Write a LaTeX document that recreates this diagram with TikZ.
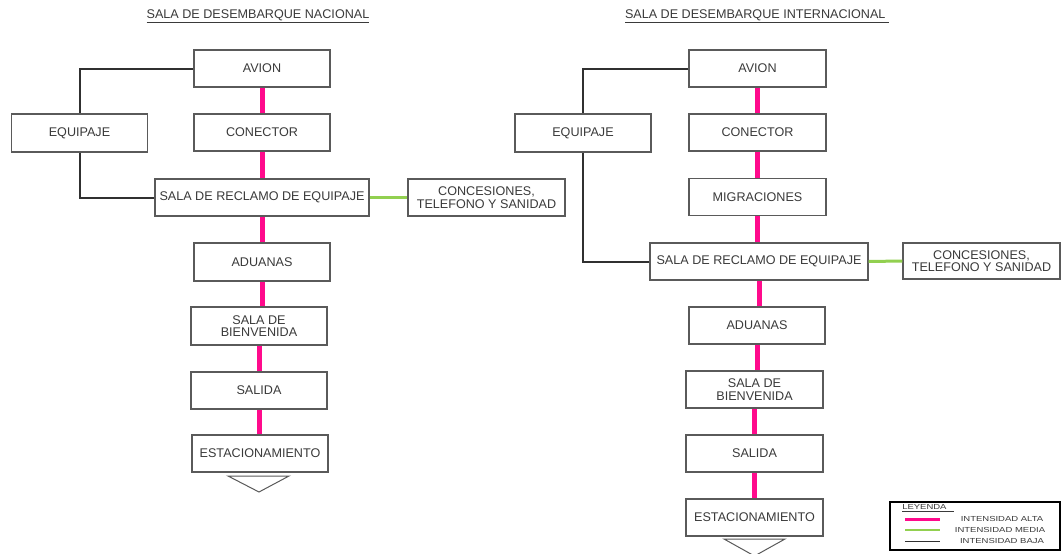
\documentclass[tikz,border=0pt]{standalone}
\usepackage{fontspec}
\setmainfont{Liberation Sans}
\definecolor{boxline}{HTML}{5A5A5A}
\definecolor{txt}{HTML}{3A3A3A}
\definecolor{hipink}{HTML}{FF0A8C}
\definecolor{midgreen}{HTML}{92D050}
\definecolor{lowline}{HTML}{303030}
\begin{document}
\begin{tikzpicture}[x=1pt,y=-1pt,
  box/.style={draw=boxline,line width=1.2pt,fill=white,text=txt,align=center,
    inner sep=0pt,font=\fontsize{12.6}{12.5}\selectfont,minimum height=37pt,minimum width=136pt},
  alta/.style={draw=hipink,line width=5pt},
  media/.style={draw=midgreen,line width=3pt},
  baja/.style={draw=lowline,line width=2pt},
  ttl/.style={text=txt,font=\fontsize{12.6}{12.6}\selectfont,inner sep=0pt},
  leg/.style={text=txt,font=\fontsize{7.3}{7.3}\selectfont,inner sep=0pt,xscale=1.3,transform shape}]
\useasboundingbox (0,0) rectangle (1061,554);
\fill[white] (0,0) rectangle (1061,554);

% titles
\node[ttl] (t1) at (258,16) {\underline{SALA DE DESEMBARQUE NACIONAL}};
\node[ttl] (t2) at (757,16) {\underline{SALA DE DESEMBARQUE INTERNACIONAL\ }};

% ---------- nacional ----------
\node[box] (nA) at (262,68.5) {AVION};
\node[box] (nC) at (262,132.5) {CONECTOR};
\node[box,minimum height=38pt] (nE) at (79.5,133) {EQUIPAJE};
\node[box,minimum width=214pt] (nS) at (262,197.5) {SALA DE RECLAMO DE EQUIPAJE};
\node[box,minimum width=157pt] (nK) at (486.5,197.5) {CONCESIONES,\\TELEFONO Y SANIDAD};
\node[box,minimum height=38pt] (nAd) at (262,262) {ADUANAS};
\node[box,minimum height=38pt] (nB) at (259,326) {SALA DE\\BIENVENIDA};
\node[box] (nSa) at (259,390.5) {SALIDA};
\node[box] (nEs) at (260,453.5) {ESTACIONAMIENTO};
\coordinate (nT1) at (228,476);
\coordinate (nT2) at (289,476);
\coordinate (nT3) at (259,492);
\draw[boxline,line width=1pt] (nT1) -- (nT2) -- (nT3) -- cycle;

\draw[baja] (nA.west) -| (nE.north);
\draw[baja] (nE.south) |- (nS.west);
\draw[media] (nS.east) -- (nK.west);
\foreach \a/\b in {nA/nC,nC/nS,nS/nAd,nAd/nB,nB/nSa,nSa/nEs}
  \draw[alta] (\a.south) -- (\a.south |- \b.north);

% ---------- internacional ----------
\node[box,minimum width=137pt] (iA) at (757.5,68.5) {AVION};
\node[box,minimum width=137pt] (iC) at (757.5,132.5) {CONECTOR};
\node[box,minimum height=38pt] (iE) at (583,133) {EQUIPAJE};
\node[box,minimum width=137pt] (iM) at (757.5,197) {MIGRACIONES};
\node[box,minimum width=218pt] (iS) at (759,261.5) {SALA DE RECLAMO DE EQUIPAJE};
\node[box,minimum width=157pt,minimum height=36pt] (iK) at (981.5,261) {CONCESIONES,\\TELEFONO Y SANIDAD};
\node[box] (iAd) at (757,325.5) {ADUANAS};
\node[box,minimum width=137pt] (iB) at (754.5,389.5) {SALA DE\\BIENVENIDA};
\node[box,minimum width=137pt] (iSa) at (754.5,453.5) {SALIDA};
\node[box,minimum width=137pt] (iEs) at (754.5,517.5) {ESTACIONAMIENTO};
\coordinate (iT1) at (724,539);
\coordinate (iT2) at (785,539);
\coordinate (iT3) at (754.5,556);
\draw[boxline,line width=1pt] (iT1) -- (iT2) -- (iT3) -- cycle;

\draw[baja] (iA.west) -| (iE.north);
\draw[baja] (iE.south) |- (iS.west);
\draw[media] (iS.east) -- (iK.west);
\foreach \a/\b in {iA/iC,iC/iM,iM/iS,iS/iAd,iAd/iB,iB/iSa,iSa/iEs}
  \draw[alta] (\a.south) -- (\a.south |- \b.north);

% ---------- leyenda ----------
\node[draw=black,line width=1.2pt,minimum width=170pt,minimum height=48pt,inner sep=0pt] (lg) at (975,526) {};
\node[leg,anchor=west] (lgT) at (902,508) {\underline{LEYENDA\ \ \ }};
\coordinate (l1a) at (905,519); \coordinate (l1b) at (940,519);
\coordinate (l2a) at (905,530); \coordinate (l2b) at (940,530);
\coordinate (l3a) at (905,541); \coordinate (l3b) at (940,541);
\draw[draw=hipink,line width=3pt] (l1a) -- (l1b);
\draw[draw=midgreen,line width=2.5pt] (l2a) -- (l2b);
\draw[draw=lowline,line width=0.6pt] (l3a) -- (l3b);
\node[leg] (lt1) at (1002,519) {INTENSIDAD ALTA};
\node[leg] (lt2) at (1000,530) {INTENSIDAD MEDIA};
\node[leg] (lt3) at (1002,541) {INTENSIDAD BAJA};
\end{tikzpicture}
\end{document}
